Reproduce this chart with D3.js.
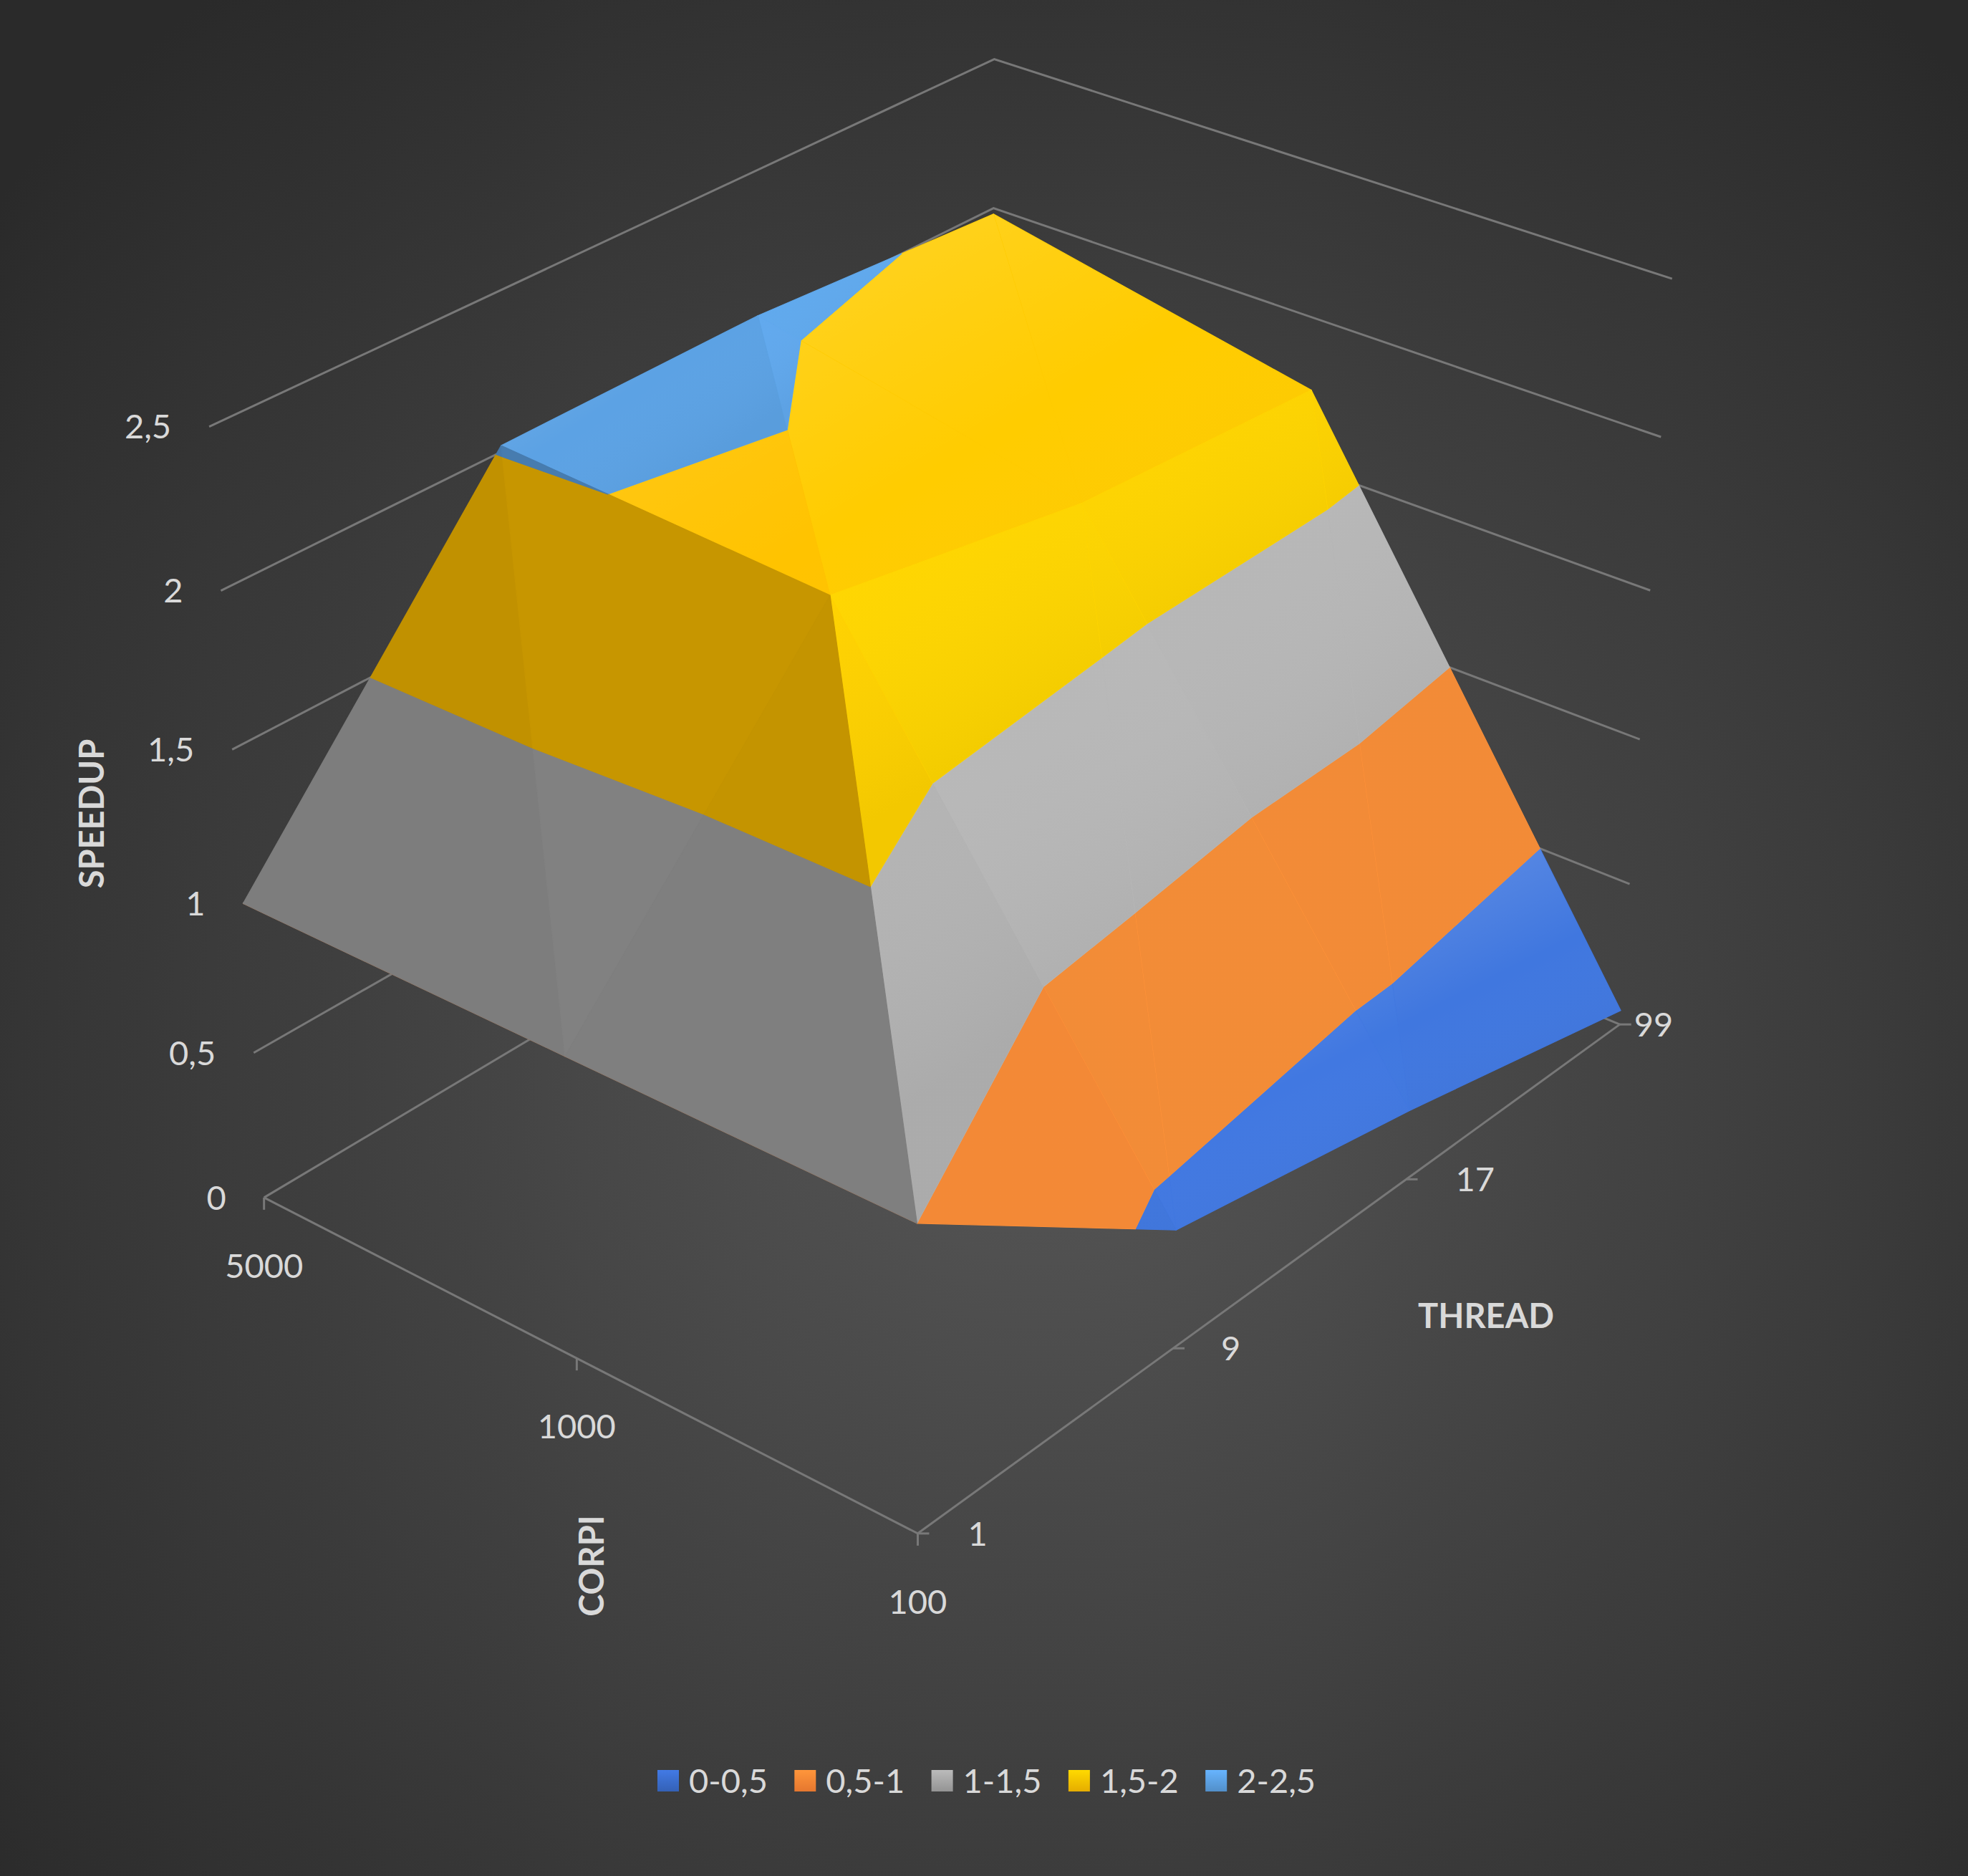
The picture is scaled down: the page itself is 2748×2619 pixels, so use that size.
<!DOCTYPE html>
<html>
<head>
<meta charset="utf-8">
<script src="https://cdn.jsdelivr.net/npm/d3@7"></script>
<style>
  html, body { margin: 0; padding: 0; background: #333; }
  svg { display: block; }
</style>
</head>
<body>
<svg id="chart" width="2748" height="2619"></svg>
<script>
// ---------------- data ----------------
const threads = ["1", "9", "17", "99"];
const corpi = ["5000", "1000", "100"];
const speedup5000 = [1.00, 2.02, 2.03, 1.98];
const speedup1000 = [1.00, 1.96, 1.81, 1.76];
const speedup100  = [1.00, 0.40, 0.24, 0.05];
const speedupTicks = [0, 0.5, 1, 1.5, 2, 2.5];
const bandEdges = [0, 0.5, 1, 1.5, 2, 2.5];
const bandColors = ["#3a6cca", "#ff8434", "#a5a5a5", "#ffc000", "#5b9fe0"];

// ---------------- layout ----------------
const W = 2748, H = 2619;
const TEXT = "#d9d9d9", GRID = "#787878";
const FONT = "Lato, 'Open Sans', sans-serif";

// scales: category / value -> box coordinates
const xThread = d3.scalePoint().domain(threads).range([0, 3]);
const yCorpi = d3.scalePoint().domain(corpi).range([0, 2]);
const zSpeed = d3.scaleLinear().domain([0, 2.5]).range([0, 2.5]);

// Camera calibration: box anchors (thread idx, corpi idx, height) -> pixels
const calib = [
  [0,0,0, 369.4,1671.4],[0,1,0, 805.6,1896.9],[0,2,0, 1281.6,2140.3],
  [1,2,0, 1637.8,1882.6],[2,2,0, 1963.3,1646.9],[3,2,0, 2261.7,1430.1],
  [0,0,0.5, 353.1,1469.9],[0,0,1.5, 324.5,1046.4],[0,0,2, 308.7,824.5],[0,0,2.5, 291.8,595.4],
  [3,0,2, 1387.3,290.7],[3,0,2.5, 1388.3,82.7],
  [3,2,0.5, 2275.6,1233.7],[3,2,1, 2290,1031.5],[3,2,1.5, 2304.3,824.5],[3,2,2, 2319,610],[3,2,2.5, 2335,389.3]
];

function solve(A, b) {
  const n = b.length;
  const M = A.map((r, i) => [...r, b[i]]);
  for (let c = 0; c < n; c++) {
    let p = c;
    for (let r = c + 1; r < n; r++) if (Math.abs(M[r][c]) > Math.abs(M[p][c])) p = r;
    [M[c], M[p]] = [M[p], M[c]];
    for (let r = 0; r < n; r++) {
      if (r === c) continue;
      const f = M[r][c] / M[c][c];
      for (let k = c; k <= n; k++) M[r][k] -= f * M[c][k];
    }
  }
  return M.map((r, i) => r[n] / r[i]);
}
function fitCamera(pts) {
  const rows = [], rhs = [];
  for (const [X, Y, Z, px, py] of pts) {
    const x = px / 1000, y = py / 1000;
    rows.push([X, Y, Z, 1, 0, 0, 0, 0, -x * X, -x * Y, -x * Z]); rhs.push(x);
    rows.push([0, 0, 0, 0, X, Y, Z, 1, -y * X, -y * Y, -y * Z]); rhs.push(y);
  }
  const n = 11;
  const A = Array.from({ length: n }, () => new Array(n).fill(0));
  const b = new Array(n).fill(0);
  rows.forEach((r, k) => {
    for (let i = 0; i < n; i++) {
      b[i] += r[i] * rhs[k];
      for (let j = 0; j < n; j++) A[i][j] += r[i] * r[j];
    }
  });
  return solve(A, b);
}
const P = fitCamera(calib);
function depth(X, Y, Z) { return P[8] * X + P[9] * Y + P[10] * Z + 1; }
function project(X, Y, Z) {
  const w = depth(X, Y, Z);
  return [1000 * (P[0] * X + P[1] * Y + P[2] * Z + P[3]) / w,
          1000 * (P[4] * X + P[5] * Y + P[6] * Z + P[7]) / w];
}
const farSign = depth(3, 0, 0) > depth(0, 2, 0) ? 1 : -1;

const svg = d3.select("#chart");
const defs = svg.append("defs");

// background
const bg = defs.append("radialGradient").attr("id", "bg")
  .attr("gradientUnits", "userSpaceOnUse").attr("cx", 1450).attr("cy", 1500).attr("r", 1900);
bg.append("stop").attr("offset", 0).attr("stop-color", "#565656");
bg.append("stop").attr("offset", 1).attr("stop-color", "#2a2a2a");
svg.append("rect").attr("width", W).attr("height", H).attr("fill", "url(#bg)");

const line = d3.line();

// ---------------- walls / gridlines ----------------
const gGrid = svg.append("g").attr("fill", "none").attr("stroke", GRID).attr("stroke-width", 3);
speedupTicks.forEach(t => {
  const z = zSpeed(t);
  gGrid.append("path").attr("d", line([project(0, 0, z), project(3, 0, z), project(3, 2, z)]));
});
// floor axes
gGrid.append("path").attr("d", line([project(0, 0, 0), project(0, 2, 0), project(3, 2, 0)]));
corpi.forEach(c => {
  const p = project(0, yCorpi(c), 0);
  gGrid.append("path").attr("d", line([p, [p[0], p[1] + 17]]));
});
threads.forEach(t => {
  const p = project(xThread(t), 2, 0);
  gGrid.append("path").attr("d", line([p, [p[0] + 16, p[1]]]));
});

// ---------------- surface ----------------
const values = [speedup5000, speedup1000, speedup100];
function vert(i, j) {
  return { X: xThread(threads[j]), Y: yCorpi(corpi[i]), Z: zSpeed(values[i][j]) };
}
const tris = [];
for (let i = 0; i < corpi.length - 1; i++) {
  for (let j = 0; j < threads.length - 1; j++) {
    const a = vert(i, j), b = vert(i + 1, j), c = vert(i + 1, j + 1), d = vert(i, j + 1);
    tris.push([a, b, d]);
    tris.push([b, c, d]);
  }
}
function clipPoly(poly, level, keepAbove) {
  const out = [];
  const inside = v => keepAbove ? v.Z >= level : v.Z <= level;
  for (let k = 0; k < poly.length; k++) {
    const cur = poly[k], prev = poly[(k + poly.length - 1) % poly.length];
    const ci = inside(cur), pi = inside(prev);
    const cross = () => {
      const t = (level - prev.Z) / (cur.Z - prev.Z);
      return { X: prev.X + t * (cur.X - prev.X), Y: prev.Y + t * (cur.Y - prev.Y), Z: level };
    };
    if (ci) { if (!pi) out.push(cross()); out.push(cur); }
    else if (pi) out.push(cross());
  }
  return out;
}
const light = (() => { const v = [0.15, 0.6, 0.78]; const n = Math.hypot(...v); return v.map(d => d / n); })();
function shadeFactor(tri) {
  const w = tri.map(v => [v.X / 3, v.Y / 2, v.Z / 2.5]);
  const e1 = [w[1][0] - w[0][0], w[1][1] - w[0][1], w[1][2] - w[0][2]];
  const e2 = [w[2][0] - w[0][0], w[2][1] - w[0][1], w[2][2] - w[0][2]];
  let n = [e1[1] * e2[2] - e1[2] * e2[1], e1[2] * e2[0] - e1[0] * e2[2], e1[0] * e2[1] - e1[1] * e2[0]];
  if (n[2] < 0) n = n.map(d => -d);
  const len = Math.hypot(...n);
  const dot = (n[0] * light[0] + n[1] * light[1] + n[2] * light[2]) / len;
  return 0.53 + 0.6 * Math.max(0, dot);
}
function shadeColor(base, f) {
  const c = d3.rgb(base);
  return d3.rgb(Math.min(255, c.r * f), Math.min(255, c.g * f), Math.min(255, c.b * f)).formatHex();
}

const polys = [];
tris.forEach(tri => {
  const cx = d3.mean(tri, v => v.X), cy = d3.mean(tri, v => v.Y), cz = d3.mean(tri, v => v.Z);
  const dep = farSign * depth(cx, cy, cz);
  const f = shadeFactor(tri);
  for (let k = 0; k < bandColors.length; k++) {
    let poly = tri.slice();
    if (k > 0) poly = clipPoly(poly, bandEdges[k], true);
    if (poly.length >= 3 && k < bandColors.length - 1) poly = clipPoly(poly, bandEdges[k + 1], false);
    if (poly.length < 3) continue;
    polys.push({ pts: poly.map(v => project(v.X, v.Y, v.Z)), band: k, f, dep });
  }
});
polys.sort((a, b) => b.dep - a.dep);

// per-band sheen gradients (lighter toward the band's upper-left)
bandColors.forEach((col, k) => {
  const pts = polys.filter(p => p.band === k).flatMap(p => p.pts);
  if (!pts.length) return;
  const x0 = d3.min(pts, p => p[0]), x1 = d3.max(pts, p => p[0]);
  const y0 = d3.min(pts, p => p[1]), y1 = d3.max(pts, p => p[1]);
  const g = defs.append("linearGradient").attr("id", "sheen" + k)
    .attr("gradientUnits", "userSpaceOnUse")
    .attr("x1", x0).attr("y1", y0).attr("x2", x0 + 0.4 * (x1 - x0)).attr("y2", y1);
  g.append("stop").attr("offset", 0).attr("stop-color", "#fff").attr("stop-opacity", 0.32);
  g.append("stop").attr("offset", 0.65).attr("stop-color", "#fff").attr("stop-opacity", 0);
  g.append("stop").attr("offset", 1).attr("stop-color", "#000").attr("stop-opacity", 0.05);
});

const gSurf = svg.append("g");
const pg = gSurf.selectAll("g").data(polys).join("g");
pg.append("path")
  .attr("d", d => line(d.pts) + "Z")
  .attr("fill", d => shadeColor(bandColors[d.band], d.f))
  .attr("stroke", d => shadeColor(bandColors[d.band], d.f))
  .attr("stroke-width", 1.2).attr("stroke-linejoin", "round");
pg.append("path")
  .attr("d", d => line(d.pts) + "Z")
  .attr("fill", d => `url(#sheen${d.band})`)
  .attr("opacity", d => Math.max(0, Math.min(1, (d.f - 0.85) / 0.25)));

// ---------------- labels ----------------
const fmt = d3.formatLocale({ decimal: ",", thousands: ".", grouping: [3], currency: ["", ""] }).format(".1~f");
const gLab = svg.append("g").attr("font-family", FONT).attr("fill", TEXT).attr("font-size", 47);

speedupTicks.forEach(t => {
  const p = project(0, 0, zSpeed(t));
  gLab.append("text").attr("x", p[0] - 53).attr("y", p[1]).attr("dy", "0.36em")
    .attr("text-anchor", "end").text(fmt(t));
});
corpi.forEach(c => {
  const p = project(0, yCorpi(c), 0);
  gLab.append("text").attr("x", p[0]).attr("y", p[1] + 95).attr("dy", "0.36em")
    .attr("text-anchor", "middle").text(c);
});
const threadLabelGap = [70, 67, 69, 20];
threads.forEach((t, i) => {
  const p = project(xThread(t), 2, 0);
  gLab.append("text").attr("x", p[0] + threadLabelGap[i]).attr("y", p[1]).attr("dy", "0.36em")
    .attr("text-anchor", "start").text(t);
});

// axis titles
const gTitle = svg.append("g").attr("font-family", FONT).attr("fill", TEXT)
  .attr("font-size", 47).attr("font-weight", "bold").attr("text-anchor", "middle");
gTitle.append("text").attr("transform", "translate(128,1136) rotate(-90)").attr("dy", "0.36em").text("SPEEDUP");
gTitle.append("text").attr("transform", "translate(826,2186) rotate(-90)").attr("dy", "0.36em").text("CORPI");
gTitle.append("text").attr("x", 2075).attr("y", 1837).attr("dy", "0.36em").text("THREAD");

// ---------------- legend ----------------
const legendX0 = 918, legendStep = 191.3, legendY = 2486, sq = 30;
const legendLabels = bandEdges.slice(0, -1).map((e, k) => `${fmt(e)}-${fmt(bandEdges[k + 1])}`);
const gLeg = svg.append("g").attr("font-family", FONT).attr("fill", TEXT).attr("font-size", 47);
legendLabels.forEach((lab, k) => {
  const lg = defs.append("linearGradient").attr("id", "leg" + k).attr("x1", 0).attr("y1", 0).attr("x2", 0).attr("y2", 1);
  lg.append("stop").attr("offset", 0).attr("stop-color", d3.rgb(bandColors[k]).brighter(0.35).formatHex());
  lg.append("stop").attr("offset", 1).attr("stop-color", d3.rgb(bandColors[k]).darker(0.3).formatHex());
  const x = legendX0 + k * legendStep;
  gLeg.append("rect").attr("x", x).attr("y", legendY - sq / 2).attr("width", sq).attr("height", sq)
    .attr("fill", `url(#leg${k})`);
  gLeg.append("text").attr("x", x + sq + 14).attr("y", legendY).attr("dy", "0.36em").text(lab);
});
</script>
</body>
</html>
